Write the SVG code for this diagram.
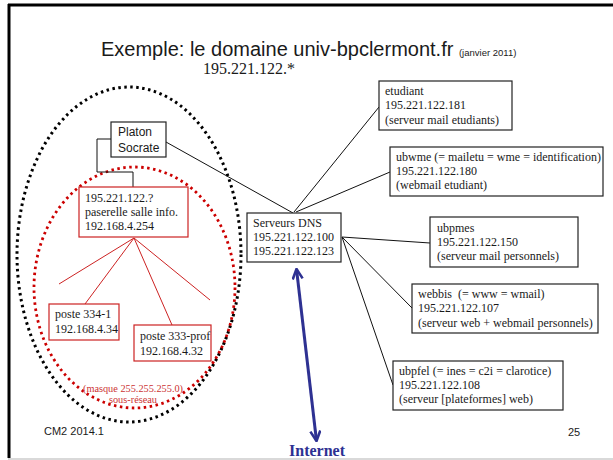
<svg xmlns="http://www.w3.org/2000/svg" width="613" height="460" viewBox="0 0 613 460">
<defs>
<style>
.serif{font-size:12px;fill:#1a1a1a}
.sans{fill:#1a1a1a}
.box{fill:#fff;stroke:#222;stroke-width:1.2}
.rbox{fill:#fff;stroke:#cc2222;stroke-width:1.2}
.line{stroke:#111;stroke-width:1;fill:none}
.rline{stroke:#cc2222;stroke-width:1;fill:none}
.red{fill:#cc3333;font-size:10.3px}
</style>
<marker id="ah" viewBox="0 0 12 12" refX="11" refY="6" markerWidth="12" markerHeight="12" markerUnits="userSpaceOnUse" orient="auto-start-reverse">
<path d="M1,1 L11,6 L1,11" fill="none" stroke="#2e3192" stroke-width="2.6"/>
</marker>
</defs>
<rect x="0" y="0" width="613" height="460" fill="#fff"/>
<g id="frame">
<line x1="8" y1="5" x2="613" y2="5" stroke="#000" stroke-width="3"/>
<line x1="9" y1="4" x2="9" y2="458" stroke="#000" stroke-width="3"/>
<line x1="8" y1="459" x2="613" y2="459" stroke="#ccc" stroke-width="1.5"/>
</g>
<g id="title">
<text class="sans" font-family="Liberation Sans, Arial, sans-serif" x="101" y="56" font-size="20">Exemple: le domaine univ-bpclermont.fr <tspan font-size="9.5">(janvier 2011)</tspan></text>
<text class="serif" font-family="Liberation Serif, serif" x="203" y="74" style="font-size:16px">195.221.122.*</text>
</g>
<g id="zones" font-family="Liberation Serif, serif">
<ellipse cx="129" cy="254.5" rx="112" ry="167.5" fill="none" stroke="#000" stroke-width="3" stroke-dasharray="2.5 3.5"/>
<ellipse cx="134.5" cy="287.5" rx="100.5" ry="120.5" fill="none" stroke="#cc0000" stroke-width="2.8" stroke-dasharray="2.5 3.5"/>
<text class="red" x="133" y="392" text-anchor="middle">(masque 255.255.255.0)</text>
<text class="red" x="133" y="403" text-anchor="middle">sous-réseau</text>
</g>
<g id="connectors">
<polyline class="line" points="111,139 97,139 97,172 133,172 133,187"/>
<line class="line" x1="166" y1="142" x2="293" y2="213"/>
<line class="line" x1="294" y1="212" x2="379" y2="107"/>
<line class="line" x1="296" y1="212" x2="390" y2="172"/>
<line class="line" x1="342" y1="237" x2="430" y2="243"/>
<line class="line" x1="342" y1="237" x2="412" y2="308"/>
<line class="line" x1="342" y1="237" x2="393" y2="385"/>
<line class="rline" x1="134" y1="238" x2="59" y2="284"/>
<line class="rline" x1="134" y1="238" x2="85" y2="304"/>
<line class="rline" x1="134" y1="238" x2="172" y2="325"/>
<line class="rline" x1="134" y1="238" x2="210" y2="300"/>
<line x1="296.5" y1="269" x2="316.5" y2="441" stroke="#2e3192" stroke-width="3" marker-start="url(#ah)" marker-end="url(#ah)"/>
</g>
<g id="platon" font-family="Liberation Sans, Arial, sans-serif">
<rect class="box" x="111" y="122" width="55" height="35"/>
<text class="sans" x="118" y="136" font-size="12">Platon</text>
<text class="sans" x="118" y="152" font-size="12">Socrate</text>
</g>
<g id="passerelle" font-family="Liberation Serif, serif">
<rect class="rbox" x="79" y="187" width="109" height="50"/>
<text class="serif" x="85" y="202">195.221.122.?</text>
<text class="serif" x="85" y="216">paserelle salle info.</text>
<text class="serif" x="85" y="230">192.168.4.254</text>
</g>
<g id="poste334" font-family="Liberation Serif, serif">
<rect class="rbox" x="49" y="304" width="70" height="36"/>
<text class="serif" x="55" y="318">poste 334-1</text>
<text class="serif" x="55" y="333">192.168.4.34</text>
</g>
<g id="poste333" font-family="Liberation Serif, serif">
<rect class="rbox" x="134" y="325" width="77" height="36"/>
<text class="serif" x="140" y="340">poste 333-prof</text>
<text class="serif" x="140" y="355">192.168.4.32</text>
</g>
<g id="dns" font-family="Liberation Serif, serif">
<rect class="box" x="247" y="213" width="94" height="49"/>
<text class="serif" x="253" y="227">Serveurs DNS</text>
<text class="serif" x="253" y="241">195.221.122.100</text>
<text class="serif" x="253" y="255">195.221.122.123</text>
</g>
<g id="etudiant" font-family="Liberation Serif, serif">
<rect class="box" x="379" y="81" width="133" height="49"/>
<text class="serif" x="385" y="95">etudiant</text>
<text class="serif" x="385" y="109">195.221.122.181</text>
<text class="serif" x="385" y="124">(serveur mail etudiants)</text>
</g>
<g id="ubwme" font-family="Liberation Serif, serif">
<rect class="box" x="390" y="147" width="213" height="49"/>
<text class="serif" x="396" y="161">ubwme (= mailetu = wme = identification)</text>
<text class="serif" x="396" y="175">195.221.122.180</text>
<text class="serif" x="396" y="189">(webmail etudiant)</text>
</g>
<g id="ubpmes" font-family="Liberation Serif, serif">
<rect class="box" x="430" y="217" width="148" height="50"/>
<text class="serif" x="437" y="232">ubpmes</text>
<text class="serif" x="437" y="246">195.221.122.150</text>
<text class="serif" x="437" y="260">(serveur mail personnels)</text>
</g>
<g id="webbis" font-family="Liberation Serif, serif">
<rect class="box" x="412" y="284" width="186" height="49"/>
<text class="serif" x="418" y="298" xml:space="preserve">webbis  (= www = wmail)</text>
<text class="serif" x="418" y="312">195.221.122.107</text>
<text class="serif" x="418" y="327">(serveur web + webmail personnels)</text>
</g>
<g id="ubpfel" font-family="Liberation Serif, serif">
<rect class="box" x="393" y="361" width="170" height="49"/>
<text class="serif" x="399" y="375">ubpfel (= ines = c2i = clarotice)</text>
<text class="serif" x="399" y="389">195.221.122.108</text>
<text class="serif" x="399" y="403">(serveur [plateformes] web)</text>
</g>
<g id="footer" font-family="Liberation Sans, Arial, sans-serif">
<text class="sans" x="44" y="435" font-size="11">CM2 2014.1</text>
<text class="sans" x="568" y="436" font-size="11">25</text>
<text x="289" y="456" font-family="Liberation Serif, serif" font-weight="bold" font-size="16" fill="#2e3192">Internet</text>
</g>
</svg>
